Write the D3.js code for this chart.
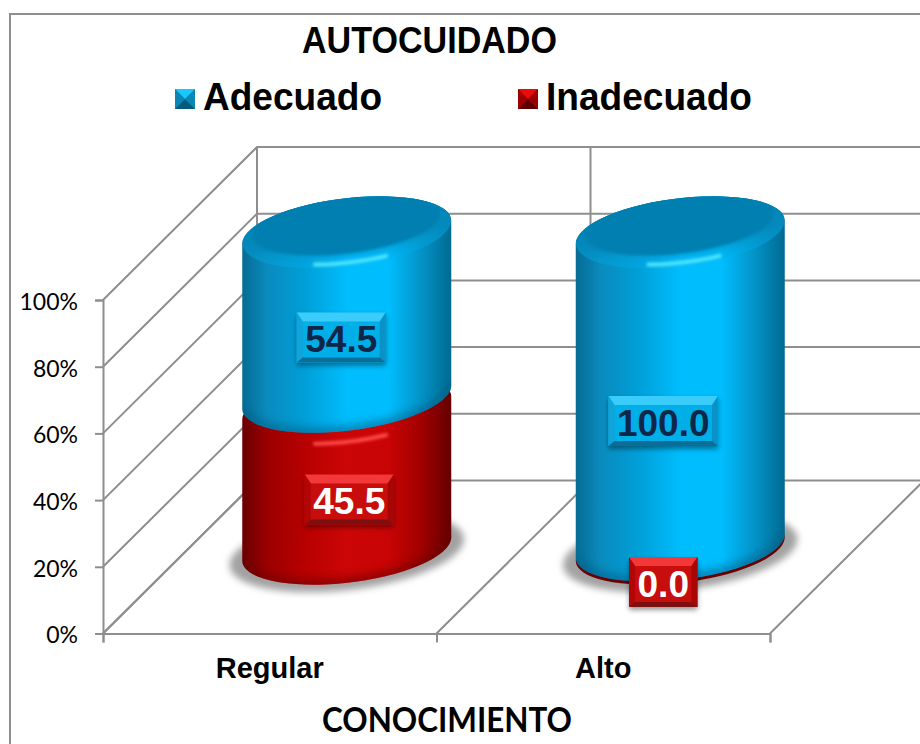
<!DOCTYPE html>
<html>
<head>
<meta charset="utf-8">
<script src="https://cdn.jsdelivr.net/npm/d3@7"></script>
<style>
  html, body { margin: 0; padding: 0; background: #fff; }
  svg { display: block; }
</style>
</head>
<body>
<svg id="chart" width="920" height="744"></svg>
<script>
const title = 'AUTOCUIDADO';
const xTitle = 'CONOCIMIENTO';
const categories = ['Regular', 'Alto'];
const seriesNames = ['Inadecuado', 'Adecuado'];
const inadecuado = [45.5, 0.0];
const adecuado = [54.5, 100.0];
const yTicks = [0, 20, 40, 60, 80, 100];
const legendOrder = ['Adecuado', 'Inadecuado'];

const width = 920, height = 744;
const arial = '"Liberation Sans", Arial, sans-serif';
const calibri = 'Lato, Calibri, sans-serif';
const lineColor = '#8e8e8e';

// 3d box: front plane plus a fixed shift to the back wall
const depth = {x: 154, y: -153};
const front = {left: 103, right: 770, bottom: 633.5, top: 300};

const table = categories.map((c, i) => ({category: c, Inadecuado: inadecuado[i], Adecuado: adecuado[i]}));
const stacked = d3.stack().keys(seriesNames)(table);

const x = d3.scaleBand().domain(categories).range([front.left, front.right]);
const xEdge = d3.scaleLinear().domain([0, categories.length]).range([front.left, front.right]);
const y = d3.scaleLinear().domain([0, 100]).range([front.bottom, front.top]);
// the cylinders sit half way back and are foreshortened a little
const yBar = d3.scaleLinear().domain([0, 100]).range([546, 232]);
const barCenter = c => x(c) + x.bandwidth() / 2 + depth.x / 2;

const ell = {a: 105, b: 33.5, angle: -7, sx: 104.5, sy: 11};

const palette = {
    Adecuado: {
        stops: ['#066c94', '#0a8bbd', '#009fd8', '#00bdfd', '#00bdfd', '#0392c6', '#006a90'],
        cap: '#037fb0', glow: '#4fe6ff', shade: '#005f86',
        face: '#00aee8', top: '#3accfa', left: '#12a4d8', right: '#0a92c6', bottom: '#0b6e98', text: '#0e2748'
    },
    Inadecuado: {
        stops: ['#6a0000', '#9c0000', '#b80000', '#cc0606', '#c80404', '#a00000', '#640000'],
        cap: '#a00000', glow: '#ff4a4a', shade: '#6a0000',
        face: '#c80808', top: '#f23838', left: '#b20606', right: '#a80505', bottom: '#7c1010', text: '#ffffff'
    }
};

// hand placed data labels in the original
const labelNudge = {
    'Adecuado|Regular': [-5.5, 20],
    'Inadecuado|Regular': [2.5, 25],
    'Adecuado|Alto': [-17, 32],
    'Inadecuado|Alto': [-17, 36]
};

const svg = d3.select('#chart');
const defs = svg.append('defs');

seriesNames.forEach(name => {
    const g = defs.append('linearGradient').attr('id', 'body-' + name);
    const stops = palette[name].stops;
    const off = [0, 0.12, 0.3, 0.5, 0.7, 0.86, 1];
    stops.forEach((s, i) => g.append('stop').attr('offset', off[i]).attr('stop-color', s));
});

const rimGrad = defs.append('linearGradient').attr('id', 'rim')
    .attr('x1', 0).attr('y1', 0).attr('x2', 0).attr('y2', 1);
rimGrad.append('stop').attr('offset', 0).attr('stop-color', '#037fb0');
rimGrad.append('stop').attr('offset', 0.6).attr('stop-color', '#048abd');
rimGrad.append('stop').attr('offset', 1).attr('stop-color', '#00b4f2').attr('stop-opacity', 0.25);

defs.append('filter').attr('id', 'blur3').attr('x', '-20%').attr('y', '-20%').attr('width', '140%').attr('height', '140%')
    .append('feGaussianBlur').attr('stdDeviation', 3.5);
defs.append('filter').attr('id', 'blur1').attr('x', '-10%').attr('y', '-10%').attr('width', '120%').attr('height', '120%')
    .append('feGaussianBlur').attr('stdDeviation', 1.5);
defs.append('filter').attr('id', 'blur2').attr('x', '-30%').attr('y', '-100%').attr('width', '160%').attr('height', '300%')
    .append('feGaussianBlur').attr('stdDeviation', 1.6);
defs.append('filter').attr('id', 'blur5').attr('x', '-30%').attr('y', '-60%').attr('width', '160%').attr('height', '220%')
    .append('feGaussianBlur').attr('stdDeviation', 5);
defs.append('filter').attr('id', 'labelShadow').attr('x', '-20%').attr('y', '-20%').attr('width', '140%').attr('height', '150%')
    .append('feDropShadow').attr('dx', 0).attr('dy', 3).attr('stdDeviation', 2.5).attr('flood-color', '#000').attr('flood-opacity', 0.4);

// chart frame, only left and top are inside the crop
svg.append('path')
    .attr('d', `M10,${height}V14H${width}`)
    .attr('fill', 'none').attr('stroke', lineColor).attr('stroke-width', 2);

// walls
const walls = svg.append('g').attr('fill', 'none').attr('stroke', lineColor).attr('stroke-width', 2);
yTicks.forEach(t => {
    walls.append('path').attr('d', `M${front.left},${y(t)}l${depth.x},${depth.y}H${width}`);
});
d3.range(categories.length + 1).forEach(i => {
    const ex = xEdge(i);
    walls.append('line').attr('x1', ex).attr('y1', front.bottom).attr('x2', ex + depth.x).attr('y2', front.bottom + depth.y);
    walls.append('line').attr('x1', ex + depth.x).attr('y1', y(100) + depth.y).attr('x2', ex + depth.x).attr('y2', front.bottom + depth.y);
});

// axes
const yAxis = svg.append('g')
    .attr('transform', `translate(${front.left},0)`)
    .call(d3.axisLeft(y).tickValues(yTicks).tickSize(8).tickPadding(17).tickFormat(d => d + '%'));
yAxis.select('.domain').attr('stroke', lineColor).attr('stroke-width', 2);
yAxis.selectAll('.tick line').attr('stroke', lineColor).attr('stroke-width', 2);
yAxis.selectAll('text').attr('font-family', calibri).attr('font-size', 23).attr('dy', '0.41em').attr('fill', '#000');

const xTicks = svg.append('g')
    .attr('transform', `translate(0,${front.bottom})`)
    .call(d3.axisBottom(xEdge).tickValues(d3.range(categories.length + 1)).tickSize(9).tickFormat(''));
xTicks.select('.domain').attr('stroke', lineColor).attr('stroke-width', 2);
xTicks.selectAll('.tick line').attr('stroke', lineColor).attr('stroke-width', 2);

const xAxis = svg.append('g')
    .attr('transform', `translate(0,${front.bottom})`)
    .call(d3.axisBottom(x).tickSize(0).tickPadding(24));
xAxis.select('.domain').remove();
xAxis.selectAll('text').attr('font-family', arial).attr('font-weight', 'bold').attr('font-size', 29).attr('fill', '#000');

// cylinders
function bodyPath(cx, topY, botY) {
    const r = `A${ell.a},${ell.b} ${ell.angle} 0 0`;
    return `M${cx - ell.sx},${topY + ell.sy}V${botY + ell.sy}${r} ${cx + ell.sx},${botY - ell.sy}V${topY - ell.sy}${r} ${cx - ell.sx},${topY + ell.sy}Z`;
}

function frontArc(cx, cy, from, to) {
    const rad = ell.angle * Math.PI / 180;
    const line = d3.line();
    const pts = d3.range(from, to + 1, 4).map(deg => {
        const t = deg * Math.PI / 180;
        const ex = ell.a * Math.cos(t), ey = ell.b * Math.sin(t);
        return [cx + ex * Math.cos(rad) - ey * Math.sin(rad), cy + ex * Math.sin(rad) + ey * Math.cos(rad)];
    });
    return line(pts);
}

const bars = svg.append('g');

categories.forEach((c, i) => {
    bars.append('ellipse')
        .attr('cx', barCenter(c)).attr('cy', yBar(0) + 6)
        .attr('rx', 118).attr('ry', 38)
        .attr('transform', `rotate(${ell.angle} ${barCenter(c)} ${yBar(0) + 6})`)
        .attr('fill', '#a2a2a2').attr('filter', 'url(#blur3)');

    stacked.forEach(s => {
        const name = s.key, p = palette[name], d = s[i];
        const cx = barCenter(c);
        const empty = d[1] === d[0];
        let topY = yBar(d[1]), botY = yBar(d[0]);
        // bevels pull the stacked pieces apart, a zero piece only shows as a thin rim
        if (d[0] > 0) botY -= 6;
        if (d[0] === 0 && name === 'Inadecuado') botY += 3;
        if (name === 'Inadecuado' && !empty) topY += 5;
        if (empty) topY = botY;

        const g = bars.append('g');
        const id = 'clip-' + name + '-' + i;
        defs.append('clipPath').attr('id', id).append('path').attr('d', bodyPath(cx, topY, botY));

        g.append('path').attr('d', bodyPath(cx, topY, botY)).attr('fill', empty ? p.shade : `url(#body-${name})`);
        if (empty) return;

        const inner = g.append('g').attr('clip-path', `url(#${id})`);
        inner.append('path')
            .attr('d', frontArc(cx, botY, 0, 180))
            .attr('fill', 'none').attr('stroke', p.shade).attr('stroke-width', 9)
            .attr('opacity', 0.7).attr('filter', 'url(#blur5)');

        let glowY = topY;
        if (d[1] === 100) {
            inner.append('ellipse')
                .attr('cx', cx).attr('cy', topY).attr('rx', ell.a).attr('ry', ell.b + 1)
                .attr('transform', `rotate(${ell.angle} ${cx} ${topY})`)
                .attr('fill', 'url(#rim)');
            inner.append('ellipse')
                .attr('cx', cx - 1).attr('cy', topY - 8).attr('rx', ell.a - 10).attr('ry', ell.b - 4)
                .attr('transform', `rotate(${ell.angle} ${cx} ${topY - 8})`)
                .attr('fill', p.cap).attr('filter', 'url(#blur1)');
            glowY = topY - 3;
        }
        inner.append('path')
            .attr('d', frontArc(cx, glowY, 70, 112))
            .attr('fill', 'none').attr('stroke', p.glow).attr('stroke-width', 4)
            .attr('stroke-linecap', 'round').attr('filter', 'url(#blur2)');
    });
});

// data labels
const labels = svg.append('g');

function drawLabel(name, c, value, mid) {
    const p = palette[name];
    const nudge = labelNudge[name + '|' + c];
    const cx = barCenter(c) + nudge[0], cy = mid + nudge[1];
    const g = labels.append('g').attr('transform', `translate(${cx},${cy})`);
    const txt = g.append('text')
        .attr('text-anchor', 'middle').attr('y', 14.5)
        .attr('font-family', arial).attr('font-weight', 'bold').attr('font-size', 37)
        .attr('fill', p.text)
        .text(d3.format('.1f')(value));
    const w = txt.node().getComputedTextLength() + 17, h = 50;
    const l = -w / 2, r = w / 2, t = -h / 2, b = h / 2;
    const box = g.insert('g', 'text');
    box.append('rect').attr('x', l).attr('y', t).attr('width', w).attr('height', h)
        .attr('fill', p.face).attr('filter', 'url(#labelShadow)');
    box.append('path').attr('d', `M${l},${t}H${r}L${r - 6},${t + 9}H${l + 6}Z`).attr('fill', p.top);
    box.append('path').attr('d', `M${l},${t}L${l + 6},${t + 9}V${b - 5}L${l},${b}Z`).attr('fill', p.left);
    box.append('path').attr('d', `M${r},${t}L${r - 6},${t + 9}V${b - 5}L${r},${b}Z`).attr('fill', p.right);
    box.append('path').attr('d', `M${l},${b}H${r}L${r - 6},${b - 5}H${l + 6}Z`).attr('fill', p.bottom);
}

categories.forEach((c, i) => {
    stacked.forEach(s => {
        const d = s[i];
        drawLabel(s.key, c, d[1] - d[0], yBar((d[0] + d[1]) / 2));
    });
});

// title and legend
svg.append('text')
    .attr('x', 302).attr('y', 53)
    .attr('font-family', arial).attr('font-weight', 'bold').attr('font-size', 36)
    .attr('textLength', 255).attr('lengthAdjust', 'spacingAndGlyphs')
    .attr('fill', '#000').text(title);

const legendX = d3.scalePoint().domain(legendOrder).range([175, 518]);
const legendTextWidth = {Adecuado: 179, Inadecuado: 206};
legendOrder.forEach(name => {
    const p = palette[name], lx = legendX(name), ly = 89, s = 20, m = s / 2;
    const g = svg.append('g').attr('transform', `translate(${lx},${ly})`);
    g.append('rect').attr('width', s).attr('height', s).attr('fill', p.face);
    g.append('path').attr('d', `M0,0H${s}L${m},${m}Z`).attr('fill', name === 'Adecuado' ? '#18c8fc' : '#e80c0c');
    g.append('path').attr('d', `M0,0V${s}L${m},${m}Z`).attr('fill', name === 'Adecuado' ? '#0a86b4' : '#9c0000');
    g.append('path').attr('d', `M${s},0V${s}L${m},${m}Z`).attr('fill', name === 'Adecuado' ? '#0a86b4' : '#9c0000');
    g.append('path').attr('d', `M0,${s}H${s}L${m},${m}Z`).attr('fill', name === 'Adecuado' ? '#05597c' : '#5e0000');
    g.append('text')
        .attr('x', s + 8).attr('y', 21)
        .attr('font-family', arial).attr('font-weight', 'bold').attr('font-size', 38.5)
        .attr('textLength', legendTextWidth[name]).attr('lengthAdjust', 'spacingAndGlyphs')
        .attr('fill', '#000').text(name);
});

svg.append('text')
    .attr('x', 322).attr('y', 732)
    .attr('font-family', calibri).attr('font-weight', 'bold').attr('font-size', 34)
    .attr('textLength', 250).attr('lengthAdjust', 'spacingAndGlyphs')
    .attr('fill', '#000').text(xTitle);
</script>
</body>
</html>
